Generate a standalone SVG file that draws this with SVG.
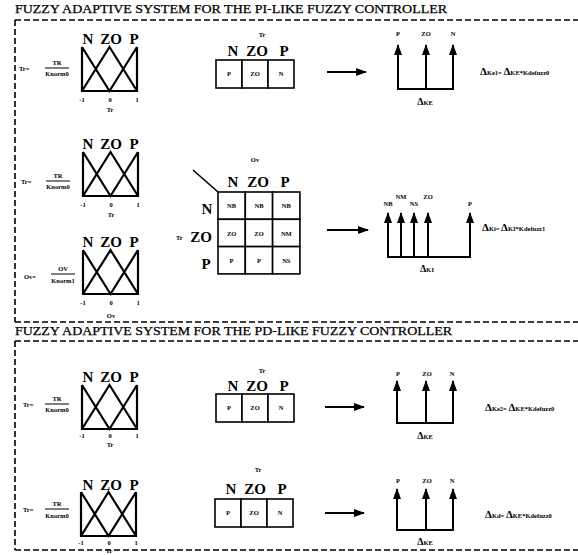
<svg xmlns="http://www.w3.org/2000/svg" xmlns:xlink="http://www.w3.org/1999/xlink" width="578" height="555" viewBox="0 0 578 555">
<style>
.t{font-family:"Liberation Serif","Times New Roman",serif;font-weight:bold;fill:#000}
.title{font-size:12px;font-weight:normal;stroke:#000;stroke-width:0.25}
.lab{font-size:15px;text-anchor:middle}
.s{font-size:6.5px;text-anchor:middle}
.sl{font-size:6.5px}
.d{font-size:11px}
.dash{stroke:#000;stroke-width:1.6;stroke-dasharray:6 3;fill:none}
.ln{stroke:#000;stroke-width:2;fill:none}
.thin{stroke:#000;stroke-width:1;fill:none}
.cell{stroke:#000;stroke-width:1.6;fill:#fff}
</style>
<defs>
<g id="mf">
<path d="M0,0 V44 H55 V0 M0,0 L27.5,44 L55,0 M0,44 L27.5,0 L55,44" stroke="#000" stroke-width="2.2" fill="none"/>
</g>
<marker id="ah" markerUnits="userSpaceOnUse" markerWidth="11" markerHeight="8" refX="10" refY="4" orient="auto">
<path d="M0,0 L11,4 L0,8 z" fill="#000"/>
</marker>
</defs>
<rect width="578" height="555" fill="#fff"/>

<g id="frames">
<text class="t title" x="15" y="13" textLength="432" lengthAdjust="spacingAndGlyphs">FUZZY ADAPTIVE SYSTEM FOR THE PI-LIKE FUZZY CONTROLLER</text>
<path class="dash" d="M15,20 H578 M15,20 V322 M15,322 H578"/>
<text class="t title" x="15" y="335" textLength="437" lengthAdjust="spacingAndGlyphs">FUZZY ADAPTIVE SYSTEM FOR THE PD-LIKE FUZZY CONTROLLER</text>
<path class="dash" d="M15,341 H578 M15,341 V550 M15,550 H578"/>
</g>

<!-- Row 1 -->
<g id="frac1">
<text class="t sl" x="19" y="71">Tr=</text>
<text class="t s" x="57" y="65">TR</text>
<line class="thin" x1="45" y1="68" x2="69" y2="68"/>
<text class="t s" x="57" y="76">Knorm0</text>
</g>
<g id="mf1">
<text class="t lab" x="88" y="44">N</text><text class="t lab" x="111" y="44">ZO</text><text class="t lab" x="134" y="44">P</text>
<use xlink:href="#mf" href="#mf" x="82" y="47"/>
<text class="t s" x="82" y="102">-1</text><text class="t s" x="110" y="102">0</text><text class="t s" x="137" y="102">1</text>
<text class="t s" x="110" y="112">Tr</text>
</g>
<g id="table1">
<text class="t s" x="262" y="37">Tr</text>
<text class="t lab" x="233" y="56">N</text><text class="t lab" x="257" y="56">ZO</text><text class="t lab" x="284" y="56">P</text>
<rect class="cell" x="216" y="60" width="26" height="28"/><rect class="cell" x="242" y="60" width="26" height="28"/><rect class="cell" x="268" y="60" width="26" height="28"/>
<text class="t s" x="229" y="76">P</text><text class="t s" x="255" y="76">ZO</text><text class="t s" x="281" y="76">N</text>
</g>
<g id="out1">
<line class="ln" x1="397" y1="89" x2="454" y2="89"/>
<line class="ln" x1="398" y1="89" x2="398" y2="45" marker-end="url(#ah)"/>
<line class="ln" x1="426" y1="89" x2="426" y2="45" marker-end="url(#ah)"/>
<line class="ln" x1="453" y1="89" x2="453" y2="45" marker-end="url(#ah)"/>
<text class="t s" x="398" y="36">P</text><text class="t s" x="426" y="36">ZO</text><text class="t s" x="453" y="36">N</text>
<text class="t s" x="425" y="105"><tspan font-size="10">Δ</tspan>KE</text>
</g>
<g id="eq1">
<text class="t sl" x="480" y="75"><tspan class="d">Δ</tspan>Ke1= <tspan class="d">Δ</tspan>KE*Kdefuzz0</text>
</g>

<!-- Row 2 -->
<g id="frac2">
<text class="t sl" x="21" y="184">Tr=</text>
<text class="t s" x="58" y="178">TR</text>
<line class="thin" x1="46" y1="181" x2="70" y2="181"/>
<text class="t s" x="58" y="189">Knorm0</text>
</g>
<g id="mf2">
<text class="t lab" x="88" y="149">N</text><text class="t lab" x="111" y="149">ZO</text><text class="t lab" x="134" y="149">P</text>
<use xlink:href="#mf" href="#mf" x="83" y="152"/>
<text class="t s" x="83" y="207">-1</text><text class="t s" x="111" y="207">0</text><text class="t s" x="138" y="207">1</text>
<text class="t s" x="111" y="217">Tr</text>
</g>
<g id="mf3">
<text class="t lab" x="88" y="247">N</text><text class="t lab" x="111" y="247">ZO</text><text class="t lab" x="134" y="247">P</text>
<use xlink:href="#mf" href="#mf" x="83" y="250"/>
<text class="t s" x="83" y="305">-1</text><text class="t s" x="111" y="305">0</text><text class="t s" x="138" y="305">1</text>
<text class="t s" x="111" y="318">Ov</text>
</g>
<g id="frac3">
<text class="t sl" x="24" y="279">Ov=</text>
<text class="t s" x="63" y="271">OV</text>
<line class="thin" x1="51" y1="274" x2="75" y2="274"/>
<text class="t s" x="63" y="283">Knorm1</text>
</g>
<g id="table2">
<line x1="193" y1="170" x2="218" y2="192" stroke="#000" stroke-width="1.6"/>
<text class="t s" x="255" y="162">Ov</text>
<text class="t lab" x="233" y="187">N</text><text class="t lab" x="258" y="187">ZO</text><text class="t lab" x="285" y="187">P</text>
<text class="t lab" x="207" y="214">N</text>
<text class="t sl" x="176" y="240">Tr</text>
<text class="t lab" x="201" y="242">ZO</text>
<text class="t lab" x="206" y="269">P</text>
<g>
<rect class="cell" x="218" y="192" width="27.3" height="27.3"/><rect class="cell" x="245.3" y="192" width="27.3" height="27.3"/><rect class="cell" x="272.6" y="192" width="27.3" height="27.3"/>
<rect class="cell" x="218" y="219.3" width="27.3" height="27.3"/><rect class="cell" x="245.3" y="219.3" width="27.3" height="27.3"/><rect class="cell" x="272.6" y="219.3" width="27.3" height="27.3"/>
<rect class="cell" x="218" y="246.6" width="27.3" height="27.3"/><rect class="cell" x="245.3" y="246.6" width="27.3" height="27.3"/><rect class="cell" x="272.6" y="246.6" width="27.3" height="27.3"/>
</g>
<text class="t s" x="231.6" y="208">NB</text><text class="t s" x="259" y="208">NB</text><text class="t s" x="286.3" y="208">NB</text>
<text class="t s" x="231.6" y="235.5">ZO</text><text class="t s" x="259" y="235.5">ZO</text><text class="t s" x="286.3" y="235.5">NM</text>
<text class="t s" x="231.6" y="263">P</text><text class="t s" x="259" y="263">P</text><text class="t s" x="286.3" y="263">NS</text>
</g>
<g id="out2">
<line class="ln" x1="387" y1="257" x2="471" y2="257"/>
<line class="ln" x1="388" y1="257" x2="388" y2="213" marker-end="url(#ah)"/>
<line class="ln" x1="401" y1="257" x2="401" y2="213" marker-end="url(#ah)"/>
<line class="ln" x1="414" y1="257" x2="414" y2="213" marker-end="url(#ah)"/>
<line class="ln" x1="428" y1="257" x2="428" y2="213" marker-end="url(#ah)"/>
<line class="ln" x1="470" y1="257" x2="470" y2="213" marker-end="url(#ah)"/>
<text class="t s" x="388" y="206">NB</text><text class="t s" x="401" y="199">NM</text><text class="t s" x="414" y="206">NS</text><text class="t s" x="428" y="199">ZO</text><text class="t s" x="470" y="206">P</text>
<text class="t s" x="427" y="272"><tspan font-size="10">Δ</tspan>KI</text>
</g>
<g id="eq2">
<text class="t sl" x="482" y="231"><tspan class="d">Δ</tspan>Ki= <tspan class="d">Δ</tspan>KI*Kdefuzz1</text>
</g>

<!-- Row 4 -->
<g id="frac4">
<text class="t sl" x="23" y="407">Tr=</text>
<text class="t s" x="57" y="401">TR</text>
<line class="thin" x1="45" y1="404" x2="69" y2="404"/>
<text class="t s" x="57" y="412">Knorm0</text>
</g>
<g id="mf4">
<text class="t lab" x="88" y="382">N</text><text class="t lab" x="111" y="382">ZO</text><text class="t lab" x="134" y="382">P</text>
<use xlink:href="#mf" href="#mf" x="82" y="385"/>
<text class="t s" x="82" y="438">-1</text><text class="t s" x="110" y="438">0</text><text class="t s" x="137" y="438">1</text>
<text class="t s" x="110" y="447">Tr</text>
</g>
<g id="table4">
<text class="t s" x="262" y="373">Tr</text>
<text class="t lab" x="233" y="391">N</text><text class="t lab" x="257" y="391">ZO</text><text class="t lab" x="284" y="391">P</text>
<rect class="cell" x="216" y="394" width="26" height="28"/><rect class="cell" x="242" y="394" width="26" height="28"/><rect class="cell" x="268" y="394" width="26" height="28"/>
<text class="t s" x="229" y="410">P</text><text class="t s" x="255" y="410">ZO</text><text class="t s" x="281" y="410">N</text>
</g>
<g id="out4">
<line class="ln" x1="396" y1="423" x2="454" y2="423"/>
<line class="ln" x1="397" y1="423" x2="397" y2="381" marker-end="url(#ah)"/>
<line class="ln" x1="426" y1="423" x2="426" y2="381" marker-end="url(#ah)"/>
<line class="ln" x1="453" y1="423" x2="453" y2="381" marker-end="url(#ah)"/>
<text class="t s" x="398" y="376">P</text><text class="t s" x="427" y="376">ZO</text><text class="t s" x="452" y="376">N</text>
<text class="t s" x="425" y="439"><tspan font-size="10">Δ</tspan>KE</text>
</g>
<g id="eq4">
<text class="t sl" x="485" y="411"><tspan class="d">Δ</tspan>Ke2= <tspan class="d">Δ</tspan>KE*Kdefuzz0</text>
</g>

<!-- Row 5 -->
<g id="frac5">
<text class="t sl" x="23" y="512">Tr=</text>
<text class="t s" x="57" y="506">TR</text>
<line class="thin" x1="45" y1="509" x2="69" y2="509"/>
<text class="t s" x="57" y="518">Knorm0</text>
</g>
<g id="mf5">
<text class="t lab" x="88" y="490">N</text><text class="t lab" x="111" y="490">ZO</text><text class="t lab" x="134" y="490">P</text>
<use xlink:href="#mf" href="#mf" x="81" y="492"/>
<text class="t s" x="81" y="545">-1</text><text class="t s" x="109" y="545">0</text><text class="t s" x="136" y="545">1</text>
<text class="t s" x="109" y="553">Tr</text>
</g>
<g id="table5">
<text class="t s" x="258" y="472">Tr</text>
<text class="t lab" x="231" y="494">N</text><text class="t lab" x="255" y="494">ZO</text><text class="t lab" x="282" y="494">P</text>
<rect class="cell" x="215" y="499" width="26" height="28"/><rect class="cell" x="241" y="499" width="26" height="28"/><rect class="cell" x="267" y="499" width="26" height="28"/>
<text class="t s" x="228" y="515">P</text><text class="t s" x="254" y="515">ZO</text><text class="t s" x="280" y="515">N</text>
</g>
<g id="out5">
<line class="ln" x1="396" y1="530" x2="454" y2="530"/>
<line class="ln" x1="397" y1="530" x2="397" y2="489" marker-end="url(#ah)"/>
<line class="ln" x1="426" y1="530" x2="426" y2="489" marker-end="url(#ah)"/>
<line class="ln" x1="453" y1="530" x2="453" y2="489" marker-end="url(#ah)"/>
<text class="t s" x="398" y="483">P</text><text class="t s" x="427" y="483">ZO</text><text class="t s" x="452" y="483">N</text>
<text class="t s" x="425" y="545"><tspan font-size="10">Δ</tspan>KE</text>
</g>
<g id="eq5">
<text class="t sl" x="485" y="518"><tspan class="d">Δ</tspan>Kd= <tspan class="d">Δ</tspan>KE*Kdefuzz0</text>
</g>

<g id="connectors">
<line class="ln" x1="327" y1="72" x2="366" y2="72" marker-end="url(#ah)"/>
<line class="ln" x1="327" y1="230" x2="368" y2="230" marker-end="url(#ah)"/>
<line class="ln" x1="325" y1="407" x2="364" y2="407" marker-end="url(#ah)"/>
<line class="ln" x1="325" y1="513" x2="364" y2="513" marker-end="url(#ah)"/>
</g>
</svg>
